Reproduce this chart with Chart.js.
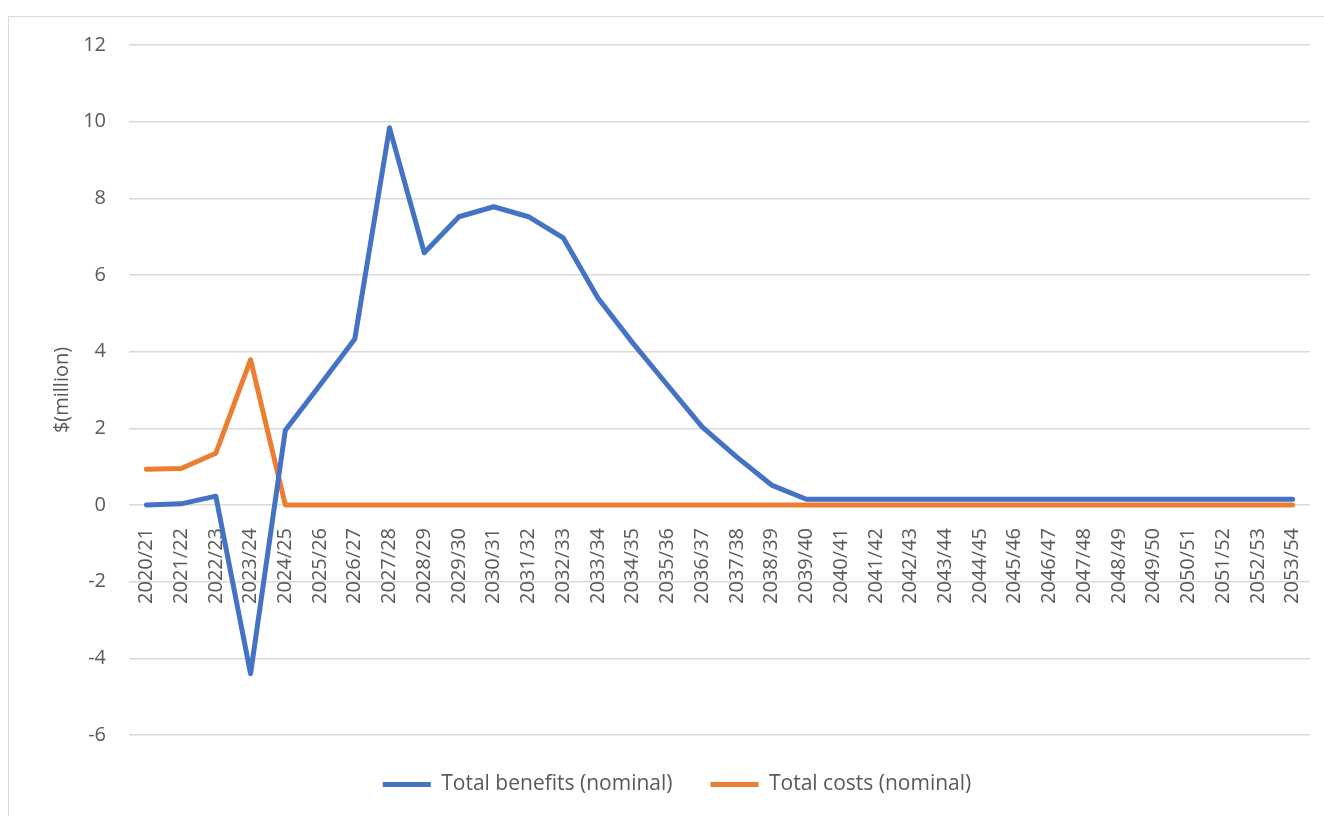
<!DOCTYPE html>
<html lang="en">
<head>
    <meta charset="UTF-8">
    <title>Total benefits and costs (nominal)</title>
    <script src="https://cdn.jsdelivr.net/npm/chart.js"></script>
    <style>
        body {
            margin: 0;
            padding: 0;
            background: #ffffff;
            overflow: hidden;
        }
        .frame {
            position: absolute;
            left: 8px;
            top: 16px;
            width: 1400px;
            height: 900px;
            border-left: 1px solid #d9d9d9;
            border-top: 1px solid #d9d9d9;
        }
        .chart-box {
            position: absolute;
            left: 0;
            top: 0;
            width: 1324px;
            height: 816px;
        }
    </style>
</head>
<body>
    <div class="frame"></div>
    <div class="chart-box">
        <canvas id="benefitChart"></canvas>
    </div>

    <script>
        // financial years on the x axis
        const years = [
            '2020/21', '2021/22', '2022/23', '2023/24', '2024/25', '2025/26', '2026/27',
            '2027/28', '2028/29', '2029/30', '2030/31', '2031/32', '2032/33', '2033/34',
            '2034/35', '2035/36', '2036/37', '2037/38', '2038/39', '2039/40', '2040/41',
            '2041/42', '2042/43', '2043/44', '2044/45', '2045/46', '2046/47', '2047/48',
            '2048/49', '2049/50', '2050/51', '2051/52', '2052/53', '2053/54'
        ];

        // $ million
        const totalBenefits = [
            0, 0.03, 0.23, -4.4, 1.95, 3.13, 4.33, 9.84, 6.58, 7.52, 7.78, 7.52, 6.97, 5.40,
            4.23, 3.13, 2.04, 1.25, 0.52, 0.15, 0.15, 0.15, 0.15, 0.15, 0.15, 0.15, 0.15,
            0.15, 0.15, 0.15, 0.15, 0.15, 0.15, 0.15
        ];
        const totalCosts = [
            0.93, 0.95, 1.35, 3.79, 0, 0, 0, 0, 0, 0, 0, 0, 0, 0, 0, 0, 0,
            0, 0, 0, 0, 0, 0, 0, 0, 0, 0, 0, 0, 0, 0, 0, 0, 0
        ];

        const yMin = -6, yMax = 12, yStep = 2;

        const textColor = '#595959';
        const gridColor = '#d9d9d9';
        const fontFamily = '"Open Sans", "Noto Sans", sans-serif';

        // legend sits a bit tighter than chart.js puts it
        const legendTweak = {
            id: 'legendTweak',
            beforeInit(chart) {
                const fit = chart.legend.fit;
                chart.legend.fit = function () {
                    fit.call(this);
                    this.height = 81;
                };
            },
            afterLayout(chart) {
                chart.legend.top += 1;
                chart.legend.bottom += 1;
            }
        };

        const ctx = document.getElementById('benefitChart').getContext('2d');
        new Chart(ctx, {
            type: 'line',
            data: {
                labels: years,
                datasets: [{
                    label: 'Total benefits (nominal)',
                    data: totalBenefits,
                    borderColor: '#4472C4',
                    backgroundColor: '#4472C4',
                    borderWidth: 5,
                    pointRadius: 0,
                    tension: 0,
                    borderJoinStyle: 'round',
                    borderCapStyle: 'round'
                }, {
                    label: 'Total costs (nominal)',
                    data: totalCosts,
                    borderColor: '#ED7D31',
                    backgroundColor: '#ED7D31',
                    borderWidth: 5,
                    pointRadius: 0,
                    tension: 0,
                    borderJoinStyle: 'round',
                    borderCapStyle: 'round'
                }]
            },
            options: {
                responsive: true,
                maintainAspectRatio: false,
                animation: false,
                layout: {
                    padding: { left: 44, right: 14, top: 45, bottom: 0 }
                },
                scales: {
                    x: {
                        position: { y: 0 },
                        offset: true,
                        afterFit: (scale) => { scale.paddingLeft = 0; scale.paddingRight = 0; },
                        grid: { display: false },
                        border: { display: false },
                        ticks: {
                            color: textColor,
                            font: { family: fontFamily, size: 20 },
                            minRotation: 90,
                            maxRotation: 90,
                            autoSkip: false,
                            padding: 15
                        }
                    },
                    y: {
                        min: yMin,
                        max: yMax,
                        afterFit: (scale) => { scale.width = 85; },
                        grid: { color: gridColor, lineWidth: 1.5, drawTicks: false },
                        border: { display: false },
                        ticks: {
                            stepSize: yStep,
                            color: textColor,
                            font: { family: fontFamily, size: 20 },
                            padding: 23
                        },
                        title: {
                            display: true,
                            text: '$(million)',
                            color: textColor,
                            font: { family: fontFamily, size: 20 },
                            padding: { top: 6, bottom: 0 }
                        }
                    }
                },
                plugins: {
                    legend: {
                        position: 'bottom',
                        labels: {
                            color: textColor,
                            font: { family: fontFamily, size: 21 },
                            boxWidth: 48,
                            boxHeight: 5,
                            padding: 38,
                            generateLabels: function (chart) {
                                return Chart.defaults.plugins.legend.labels.generateLabels(chart)
                                    .map(item => Object.assign(item, { lineWidth: 0 }));
                            }
                        }
                    },
                    tooltip: { enabled: false }
                }
            },
            plugins: [legendTweak]
        });
    </script>
</body>
</html>
